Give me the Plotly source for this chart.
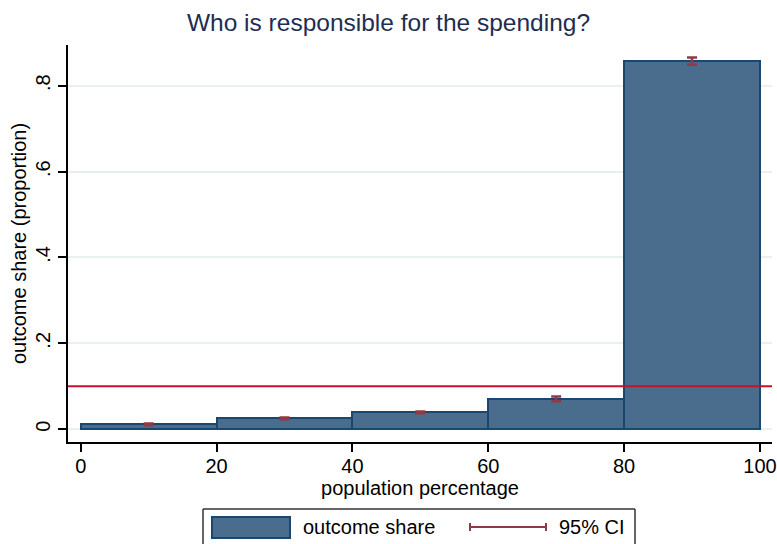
import plotly.graph_objects as go

# ---- data ----
bin_lower = [0, 20, 40, 60, 80]
bin_upper = [20, 40, 60, 80, 100]
outcome_share = [0.011, 0.025, 0.039, 0.070, 0.857]
ci_low = [0.009, 0.023, 0.037, 0.065, 0.849]
ci_high = [0.013, 0.027, 0.041, 0.076, 0.866]
reference_share = 0.1
x_ticks = [0, 20, 40, 60, 80, 100]
y_ticks = [0, 0.2, 0.4, 0.6, 0.8]
y_tick_text = ["0", ".2", ".4", ".6", ".8"]

title_text = "Who is responsible for the spending?"
x_title = "population percentage"
y_title = "outcome share (proportion)"
legend_labels = ["outcome share", "95% CI"]

# ---- styles ----
W, H = 777, 544
M_L, M_R, M_T, M_B = 68, 5, 45, 102
FONT = "Liberation Sans, Arial, sans-serif"
BAR_FILL = "#4a6d8e"
BAR_LINE = "#1a476f"
CI_COLOR = "#8f3a45"
REF_COLOR = "#c8102e"
GRID = "#e9f0f2"

centers = [(a + b) / 2 for a, b in zip(bin_lower, bin_upper)]
widths = [b - a for a, b in zip(bin_lower, bin_upper)]
ci_mid = [(lo + hi) / 2 for lo, hi in zip(ci_low, ci_high)]

fig = go.Figure()
fig.add_trace(go.Bar(
    x=centers, y=outcome_share, width=widths,
    marker=dict(color=BAR_FILL, line=dict(color=BAR_LINE, width=2)),
    name=legend_labels[0], showlegend=False,
))
fig.add_trace(go.Scatter(
    x=centers, y=ci_mid, mode="markers",
    marker=dict(size=1, opacity=0),
    error_y=dict(type="data", symmetric=False,
                 array=[h - m for h, m in zip(ci_high, ci_mid)],
                 arrayminus=[m - l for m, l in zip(ci_mid, ci_low)],
                 color=CI_COLOR, thickness=2.5, width=5),
    name=legend_labels[1], showlegend=False,
))

# pixel -> paper helpers (for the hand-built legend)
PW = W - M_L - M_R
PH = H - M_T - M_B
def px(x):
    return (x - M_L) / PW
def py(y):
    return (H - M_B - y) / PH

def seg(x0, y0, x1, y1, color, width):
    return dict(type="line", xref="paper", yref="paper",
                x0=px(x0), x1=px(x1), y0=py(y0), y1=py(y1),
                line=dict(color=color, width=width))

BOX = "#333333"
shapes = [
    seg(203, 509, 635, 509, BOX, 1.5),
    seg(203, 509, 203, 545, BOX, 1.5),
    seg(635, 509, 635, 545, BOX, 1.5),
    dict(type="rect", xref="paper", yref="paper", x0=px(212), x1=px(290), y0=py(538), y1=py(517),
         line=dict(color=BAR_LINE, width=2), fillcolor=BAR_FILL),
    seg(469, 527, 547, 527, CI_COLOR, 2),
    seg(470, 523, 470, 531, CI_COLOR, 2),
    seg(546, 523, 546, 531, CI_COLOR, 2),
]
annotations = [
    dict(xref="paper", yref="paper", x=px(301), y=py(527), text=legend_labels[0],
         showarrow=False, xanchor="left", yanchor="middle", font=dict(size=20, color="black", family=FONT)),
    dict(xref="paper", yref="paper", x=px(557), y=py(527), text=legend_labels[1],
         showarrow=False, xanchor="left", yanchor="middle", font=dict(size=20, color="black", family=FONT)),
]

fig.update_layout(
    width=W, height=H,
    margin=dict(l=M_L, r=M_R, t=M_T, b=M_B),
    paper_bgcolor="white", plot_bgcolor="white",
    font=dict(family=FONT, color="black", size=20),
    title=dict(text=title_text, x=0.5, xref="container", xanchor="center",
               y=1 - 22 / H, yanchor="middle", yref="container",
               font=dict(size=24.5, color="#1e2d50", family=FONT)),
    showlegend=False,
    bargap=0,
    shapes=shapes,
    annotations=annotations,
)
fig.add_hline(y=reference_share, line=dict(color=REF_COLOR, width=2), layer="above")

fig.update_xaxes(
    range=[-1.87, 101.77], tickvals=x_ticks, showgrid=False, zeroline=False,
    showline=True, linecolor="black", linewidth=1.5,
    ticks="outside", ticklen=8, tickwidth=1.5, tickcolor="black",
    tickfont=dict(size=20), ticklabelstandoff=-3, automargin=False,
    title=dict(text=x_title, font=dict(size=20), standoff=0),
)
fig.update_yaxes(
    range=[-0.03, 0.895], tickvals=y_ticks, ticktext=y_tick_text, tickangle=-90,
    showgrid=True, gridcolor=GRID, gridwidth=2, zeroline=False,
    showline=True, linecolor="black", linewidth=1.5,
    ticks="outside", ticklen=8, tickwidth=1.5, tickcolor="black",
    tickfont=dict(size=20), automargin=False,
    title=dict(text=y_title, font=dict(size=20), standoff=0),
)

fig.write_html("out.html")
